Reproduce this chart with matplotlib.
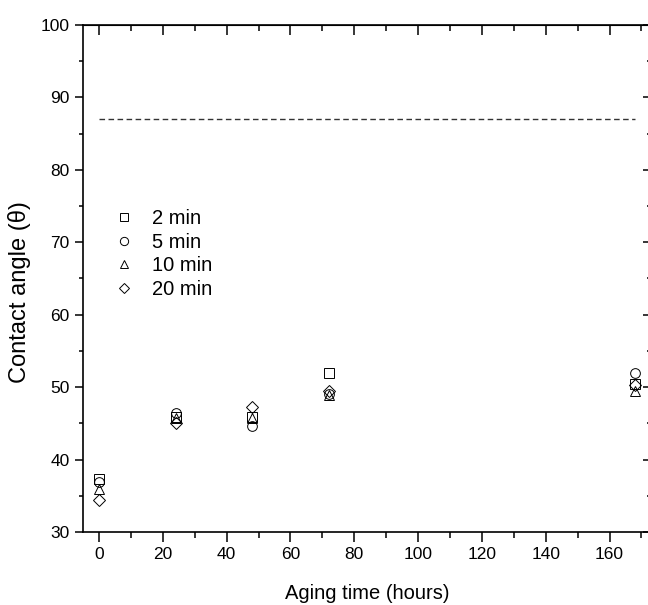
import numpy as np
import matplotlib.pyplot as plt

plt.rcParams['font.family'] = ['Liberation Sans', 'DejaVu Sans']

# aging times (hours)
hours = [0, 24, 48, 72, 168]

# contact angle for each treatment time
angle_2min = [37.3, 45.9, 45.9, 51.9, 50.4]
angle_5min = [36.9, 46.4, 44.7, 49.0, 52.0]
angle_10min = [36.0, 45.7, 45.8, 48.9, 49.4]
angle_20min = [34.4, 45.0, 47.3, 49.5, 50.3]

series = [
    (angle_2min, 's', '2 min'),
    (angle_5min, 'o', '5 min'),
    (angle_10min, '^', '10 min'),
    (angle_20min, 'D', '20 min'),
]

# reference level (dashed)
ref_x = [0, 168]
ref_y = [87, 87]

fig = plt.figure(figsize=(6.48, 6.05), dpi=100)
ax = fig.add_axes([83 / 648, 73 / 605, 568 / 648, 507 / 605])

ax.plot(ref_x, ref_y, ls=(0, (4, 2.5)), color='#333333', lw=1.0)

for vals, mk, lab in series:
    ms = 7 if mk != 'D' else 6.5
    ax.plot(hours, vals, ls='none', marker=mk, ms=ms, mfc='none',
            mec='black', mew=0.7, label=lab)

ax.set_xlim(-5, 173)
ax.set_ylim(30, 100)
ax.set_xticks(np.arange(0, 161, 20))
ax.set_xticks(np.arange(0, 171, 10), minor=True)
ax.set_yticks(np.arange(30, 101, 10))
ax.set_yticks(np.arange(30, 101, 5), minor=True)

for s in ax.spines.values():
    s.set_linewidth(1.2)

ax.tick_params(axis='x', which='both', direction='out', top=False, width=1.1)
ax.tick_params(axis='x', which='major', length=7)
ax.tick_params(axis='x', which='minor', length=4)
ax.tick_params(axis='y', which='both', direction='out', right=False, width=1.1)
ax.tick_params(axis='y', which='major', length=6)
ax.tick_params(axis='y', which='minor', length=3)
ax.tick_params(labelsize=12.5)

# inward ticks on top and right
sec_x = ax.secondary_xaxis('top')
sec_x.set_xticks(np.arange(0, 161, 20))
sec_x.set_xticks(np.arange(0, 171, 10), minor=True)
sec_x.tick_params(which='both', direction='in', labeltop=False, width=1.1)
sec_x.tick_params(which='major', length=7)
sec_x.tick_params(which='minor', length=4)
sec_y = ax.secondary_yaxis('right')
sec_y.set_yticks(np.arange(30, 101, 10))
sec_y.set_yticks(np.arange(30, 101, 5), minor=True)
sec_y.tick_params(which='both', direction='in', labelright=False, width=1.1)
sec_y.tick_params(which='major', length=6)
sec_y.tick_params(which='minor', length=3)

ax.set_xlabel('Aging time (hours)', fontsize=14.5, labelpad=16)
ax.set_ylabel('Contact angle (\u03b8)', fontsize=17)
ax.yaxis.set_label_coords(-0.092, 0.473)

leg = ax.legend(loc='upper left', bbox_to_anchor=(0.037, 0.652), frameon=False,
                fontsize=14.5, handletextpad=0.8, labelspacing=0.22,
                markerscale=0.85, handlelength=1.2, borderaxespad=0)

fig.savefig('out.png', dpi=100)
